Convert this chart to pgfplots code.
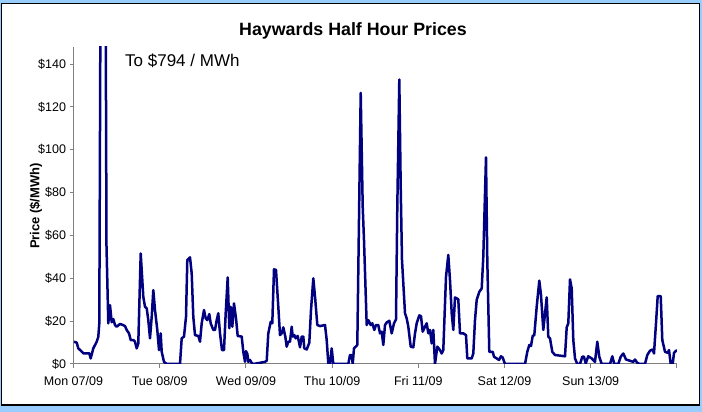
\documentclass[border=0pt]{standalone}
\usepackage{pgfplots}
\usepackage{pgfplotstable}
\pgfplotsset{compat=1.18}
\usepackage{fontspec}
\setmainfont{Liberation Sans}
\definecolor{navyline}{RGB}{0,0,128}
\definecolor{axisgray}{RGB}{128,128,128}
\definecolor{framebg}{RGB}{153,204,255}

% px = horizontal position (73.5 = Mon 00:00, 86.2 px per day)
\pgfplotstableread{
px price
74 10.4
76.7 10
78.3 7.3
81.7 5.8
83.3 5
89.3 5
90.7 2.6
93.3 7.3
96.7 10.4
98.3 12.7
99.3 19
101.1 250
102.9 794
104.7 300
106.5 55
108.3 19
110 27.5
111.7 19.5
113.3 21
115 18.2
116.7 17.4
120 18.7
123 18.2
125 17.7
126.7 15.9
129 14.3
130.7 11.2
133.3 11.2
135 10.4
136.7 7.3
138.3 9.6
140.7 51.6
143.3 31.4
145 26.7
146.7 26
148.3 20.5
150 12
151.7 22
153.3 34.5
155 25.2
157.3 15.9
159 6.5
160.7 14.3
161.7 5.7
164 1
166.7 0
180 0
181.7 12
184 12.8
186 22
187.3 48.5
190 49.8
191.7 42.3
193.3 22
195 13.5
198.3 13.1
200 10.4
201.7 19
204 25.2
205.7 21.3
207.3 20.5
209.3 23.3
210.7 19
213.3 15.9
215 15.9
216.7 20.5
218.3 23.7
220 14.3
222 6.5
224 6.5
225.7 23.7
227.7 40.4
229.3 16.7
230.7 26.7
232.3 17.4
234 28.3
236 21.3
237.7 13.1
241.7 12.8
243.3 5.7
245 1
246 6
247.3 4.8
248.3 1
250 1.9
251.7 0.5
253.3 0
265 1
266.7 1.5
268.3 14.3
270.7 19.7
272.3 19
274 44.2
276 43.9
278.3 26.7
280 13.5
281.7 14.3
283.3 17.1
285.3 12.8
286.7 8.1
288.3 10.4
290 10.4
291.7 17.4
292.7 12.8
294.3 13.5
295.7 12
297.7 13.1
300 7.8
301.7 12.8
303.3 12.8
304.3 7.3
306.7 6.8
309.3 9.9
311 25.2
313.3 40
315.3 29.9
317.3 18.2
320 17.7
325 18.2
326.7 11.2
328.3 0.3
330 0
331.7 7.3
333.3 0
348.3 0
350 4.2
351.7 4.2
352.7 0
354 7.3
355.7 8.1
357.3 8.9
360.7 126.6
362.7 73.4
364 57.9
366.7 18.2
368.3 20.5
370.7 18.2
372.3 19
374.3 15.9
376 18.2
378.3 18.2
380 14.3
381.7 15.1
383.3 8.9
385 18.2
386.7 19.4
389.3 20.2
391.7 14.3
394 19
396 20.8
397.3 73.4
399.3 132.8
400.7 82.7
402 48.5
405 23.7
406.7 21.3
408.3 17.4
410.7 8.1
413.3 7.8
415 14.3
416.7 19
419.3 22.7
421 22.3
422.7 15.1
425 17.4
426.7 19
428.3 14.3
430 15.9
431.7 9.6
433.3 15.9
435 0
437.3 8.1
440 6.5
441.7 4.9
443.3 6.5
446 40.7
448.3 50.9
450 39.2
451.7 23.7
453.3 15.9
455 31.1
458.3 30.2
460 14.3
463.3 14.3
466 13.5
467.3 2.6
471.7 2.6
473.3 4.9
475 20.5
476.7 29.9
479.3 33.7
481.7 35.3
483.3 50.1
486 96.5
487.3 48.5
489.3 5.7
492.7 5.7
494 3.4
496.7 2.6
499 1.9
501 3.6
502.7 3
505 0
525 0
527.3 5.7
529.3 8.9
531 8.4
532.7 13.1
534.3 13.5
536.7 26.7
539.3 38.9
541 32.2
543.3 15.9
546.7 31.1
548.3 12.8
550 12
552.3 5.7
555 4.2
565 3.6
566.7 17.1
568.3 19
570 39.5
571.7 35.3
573.3 11.2
575 2.6
577.3 0
580 0
582.3 3.4
584 3.4
585.7 0.3
588.3 3.6
591.7 2.6
595 1
597.3 10.4
599.3 3.4
601.7 0
610 0
612.3 3.6
614.3 0
618.3 0
620.7 3.4
623.3 4.9
626 2.1
630 1.5
633.3 1
635 2.1
637.3 0.5
640 0
645 0
647.3 4.2
650 6.2
652.7 6.8
654 4.9
656 19
657.7 31.7
660.7 31.7
662.3 11.2
665 5.7
667.7 5.2
669 6.5
670.7 0
672.7 0
674 5.2
676 6.2
677 6.2
}\prices

\begin{document}
\begin{tikzpicture}[x=1pt,y=1pt]
\useasboundingbox (0,0) rectangle (702,412);
\fill[framebg] (0,0) rectangle (702,412);
\filldraw[fill=white,draw=black,line width=1.2pt] (1.5,7) rectangle (699.5,408.5);
\begin{axis}[
  at={(73.5pt,48pt)}, anchor=south west,
  scale only axis, width=603.4pt, height=317pt,
  xmin=0, xmax=7, ymin=0, ymax=148,
  axis lines*=left,
  axis line style={draw=axisgray,line width=1pt},
  tick style={draw=axisgray,line width=1pt},
  tick align=outside, major tick length=4pt,
  xtick={0,1,2,3,4,5,6,7},
  xticklabels={Mon 07/09,Tue 08/09,Wed 09/09,Thu 10/09,Fri 11/09,Sat 12/09,Sun 13/09,{}},
  ytick={0,20,40,60,80,100,120,140},
  yticklabel={\$\pgfmathprintnumber{\tick}},
  /pgf/number format/assume math mode=true,
  ticklabel style={font=\fontsize{12.5}{14}\selectfont},
  xticklabel style={yshift=-5pt},
]
\addplot[navyline, line width=2.5pt, line join=round, mark=none]
  table[x expr=(\thisrow{px}-73.5)/86.2, y=price]{\prices};
\end{axis}
\node[anchor=base, font=\fontsize{17.8}{20}\selectfont\bfseries] at (353,376) {Haywards Half Hour Prices};
\node[anchor=base west, inner sep=0pt, font=\fontsize{17}{20}\selectfont] at (125,345.5) {To \$794 / MWh};
\node[rotate=90, font=\fontsize{13}{15}\selectfont\bfseries] at (36,206) {Price (\$/MWh)};
\end{tikzpicture}
\end{document}
